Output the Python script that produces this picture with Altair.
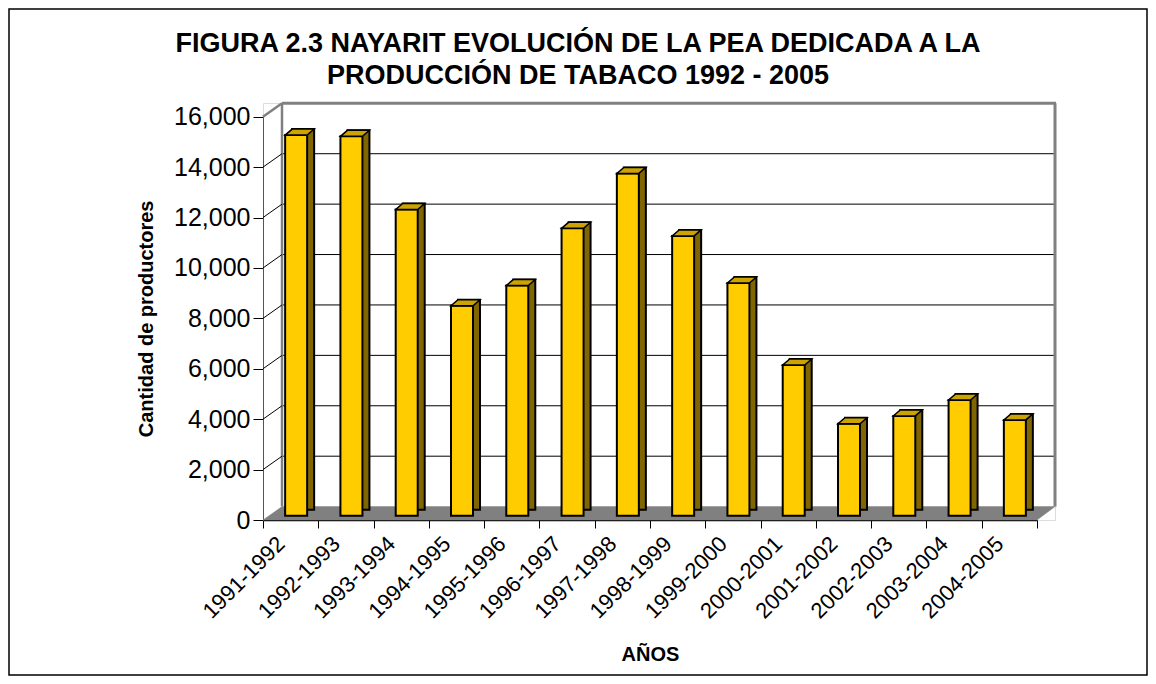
import altair as alt
import pandas as pd

periods = ["1991-1992", "1992-1993", "1993-1994", "1994-1995", "1995-1996",
           "1996-1997", "1997-1998", "1998-1999", "1999-2000", "2000-2001",
           "2001-2002", "2002-2003", "2003-2004", "2004-2005"]
productores = [15100, 15050, 12150, 8330, 9130, 11400, 13580, 11100, 9230,
               5980, 3650, 3960, 4590, 3800]
y_ticks = [0, 2000, 4000, 6000, 8000, 10000, 12000, 14000, 16000]

title_lines = ["FIGURA 2.3 NAYARIT EVOLUCIÓN DE LA PEA DEDICADA A LA",
               "PRODUCCIÓN DE TABACO 1992 - 2005"]

FONT = "Liberation Sans"
W, H = 792, 417          # plot area (back wall right edge / front floor)
XR = 774                 # front x-axis length
DX, DY = 19, -13.4       # depth offset of back wall

df = pd.DataFrame({"periodo": periods, "valor": productores})
inner = pd.DataFrame({"v": y_ticks[1:-1]})
top = pd.DataFrame({"v": [y_ticks[-1]]})
base = pd.DataFrame({"v": [y_ticks[0]], "t": [y_ticks[-1]]})

yscale = alt.Scale(domain=[0, 16000], range=[H, 13.7], nice=False)
xscale = alt.Scale(domain=periods, range=[0, XR], paddingInner=0, paddingOuter=0)

yaxis = alt.Axis(title="Cantidad de productores", values=y_ticks, format=",.0f",
                 labelFontSize=25, labelFont=FONT, labelColor="black",
                 tickSize=10, tickColor="black", domainColor="#555",
                 domainWidth=1, labelPadding=3, grid=False,
                 titleFont=FONT, titleFontSize=20, titleFontWeight="bold",
                 titleColor="black", titlePadding=17)


def ypos(field):
    return alt.Y(field, scale=yscale, axis=yaxis)


# outer frame
frame = alt.Chart(top).mark_rect(fill="white", fillOpacity=0, stroke="black", strokeWidth=1.5).encode(
    x=alt.value(-254), x2=alt.value(W + 92), y=alt.value(-94), y2=alt.value(H + 155)
)

# floor
floor = alt.Chart(base).mark_point(
    shape="M-1,0.0169L0.9545,0.0169L1,-0.0169L-0.952,-0.0169Z",
    size=W * W, filled=True, fill="#808080", stroke="#808080", strokeWidth=0.5,
    opacity=1, yOffset=-6.7
).encode(x=alt.value(W / 2), y=ypos("v:Q"))

# back wall gridlines
grid = alt.Chart(inner).mark_rule(color="black", strokeWidth=1, yOffset=DY, y2Offset=DY).encode(
    x=alt.value(DX), x2=alt.value(W), y=ypos("v:Q")
)
# back wall frame
wall_top = alt.Chart(top).mark_rule(color="#808080", strokeWidth=3, yOffset=DY).encode(
    x=alt.value(DX), x2=alt.value(W + 1), y=ypos("v:Q")
)
wall_left = alt.Chart(base).mark_rule(color="#808080", strokeWidth=2.5, yOffset=DY, y2Offset=DY).encode(
    x=alt.value(DX), y=ypos("t:Q"), y2="v:Q"
)
wall_right = alt.Chart(base).mark_rule(color="#808080", strokeWidth=3, yOffset=DY, y2Offset=DY).encode(
    x=alt.value(W), y=ypos("t:Q"), y2="v:Q"
)
# side wall connectors
conn = alt.Chart(inner).mark_rule(color="black", strokeWidth=1, y2Offset=DY).encode(
    x=alt.value(0), x2=alt.value(DX), y=ypos("v:Q"), y2="v:Q"
)
conn_top = alt.Chart(top).mark_rule(color="#808080", strokeWidth=2.5, y2Offset=DY).encode(
    x=alt.value(0), x2=alt.value(DX), y=ypos("v:Q"), y2="v:Q"
)

xenc = alt.X("periodo:N", sort=periods, scale=xscale,
             axis=alt.Axis(title="AÑOS", labelAngle=-45, labelAlign="right",
                           labelBaseline="middle", labelFontSize=22, labelFont=FONT,
                           labelColor="black", labelPadding=12, labelOffset=-10,
                           tickBand="extent",
                           tickSize=8, tickColor="black", domainColor="black",
                           domainWidth=1.5, titleFont=FONT, titleFontSize=20,
                           titleFontWeight="bold", titleColor="black", titlePadding=22,
                           labelOverlap=False, grid=False))

side = alt.Chart(df).mark_bar(size=22, color="#806600", stroke="black", strokeWidth=2,
                              xOffset=12.5, yOffset=-10.3, y2Offset=-10.3).encode(
    x=xenc, y=ypos("valor:Q"))
front = alt.Chart(df).mark_bar(size=22, color="#FFCC00", stroke="black", strokeWidth=2,
                               xOffset=5.5, yOffset=-4.3, y2Offset=-4.3).encode(
    x=xenc, y=ypos("valor:Q"))
topface = alt.Chart(df).mark_point(
    shape="M-1,0.207L0.517,0.207L1,-0.207L-0.517,-0.207Z", size=841, filled=True,
    fill="#CCA300", stroke="black", strokeWidth=1.5, opacity=1,
    xOffset=9, yOffset=-7.3
).encode(x=xenc, y=ypos("valor:Q"))

chart = alt.layer(
    frame, floor, grid, wall_top, wall_left, wall_right, conn, conn_top, side, front, topface
).properties(
    width=W, height=H,
    autosize=alt.AutoSizeParams(type="none"),
    padding={"left": 255, "top": 95, "right": 93, "bottom": 156},
    title=alt.TitleParams(text=title_lines, font=FONT, fontSize=27, fontWeight="bold",
                          color="black", anchor="middle", dx=-81, dy=94, lineHeight=32,
                          offset=12),
).configure_view(stroke=None).configure(background="white")

chart.save("out.html", embed_options={"renderer": "svg", "actions": False})
